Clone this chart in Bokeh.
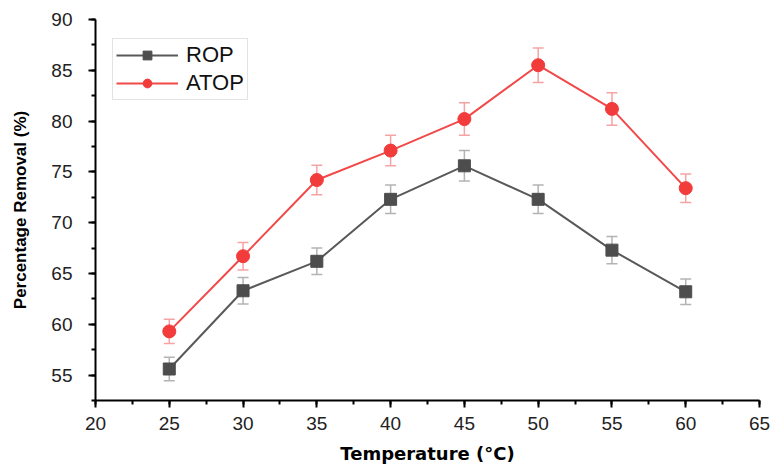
from bokeh.plotting import figure
from bokeh.models import (ColumnDataSource, Whisker, TeeHead, SingleIntervalTicker,
                          Range1d, Legend, LegendItem)
from bokeh.embed import file_html
from bokeh.resources import INLINE

# Removal efficiency versus temperature for the two adsorbents
temperature = [25, 30, 35, 40, 45, 50, 55, 60]
rop = [55.6, 63.3, 66.2, 72.3, 75.6, 72.3, 67.3, 63.2]
rop_err = [1.15, 1.3, 1.3, 1.4, 1.5, 1.4, 1.35, 1.25]
atop = [59.3, 66.7, 74.2, 77.1, 80.2, 85.5, 81.2, 73.4]
atop_err = [1.2, 1.35, 1.45, 1.5, 1.6, 1.7, 1.6, 1.4]

GRAY = "#4d4d4d"
GRAY_LINE = "#595959"
GRAY_ERR = "#b3b3b3"
RED = "#f23b3b"
RED_LINE = "#f24848"
RED_ERR = "#f6a3a3"

p = figure(width=773, height=468, output_backend="svg", toolbar_location=None,
           x_range=Range1d(20, 65), y_range=Range1d(52.5, 90),
           min_border_left=95, min_border_right=14, min_border_top=19,
           min_border_bottom=68)
p.outline_line_color = None
p.xgrid.visible = False
p.ygrid.visible = False
p.background_fill_color = "white"
p.border_fill_color = "white"

for axis in (p.xaxis[0], p.yaxis[0]):
    axis.axis_line_width = 2
    axis.axis_line_color = "black"
    axis.major_tick_line_width = 2
    axis.minor_tick_line_width = 2
    axis.major_tick_out = 7
    axis.major_tick_in = 0
    axis.minor_tick_out = 4
    axis.minor_tick_in = 0
    axis.major_label_text_font = "Liberation Sans"
    axis.major_label_text_font_size = "19px"
    axis.major_label_text_color = "#222222"
    axis.axis_label_text_color = "black"

p.xaxis.ticker = SingleIntervalTicker(interval=5, num_minor_ticks=2)
p.yaxis.ticker = SingleIntervalTicker(interval=5, num_minor_ticks=2)
p.xaxis.major_label_standoff = 9
p.yaxis.major_label_standoff = 16

p.xaxis.axis_label = "Temperature (°C)"
p.xaxis.axis_label_text_font = "DejaVu Sans"
p.xaxis.axis_label_text_font_style = "bold"
p.xaxis.axis_label_text_font_size = "18px"
p.xaxis.axis_label_standoff = 10

p.yaxis.axis_label = "Percentage Removal (%)"
p.yaxis.axis_label_text_font = "Liberation Sans"
p.yaxis.axis_label_text_font_style = "bold"
p.yaxis.axis_label_text_font_size = "17px"
p.yaxis.axis_label_standoff = 18

src_rop = ColumnDataSource(dict(
    x=temperature, y=rop,
    lo=[v - e for v, e in zip(rop, rop_err)],
    hi=[v + e for v, e in zip(rop, rop_err)]))
src_atop = ColumnDataSource(dict(
    x=temperature, y=atop,
    lo=[v - e for v, e in zip(atop, atop_err)],
    hi=[v + e for v, e in zip(atop, atop_err)]))

# error bars
for src, col in ((src_rop, GRAY_ERR), (src_atop, RED_ERR)):
    w = Whisker(source=src, base="x", upper="hi", lower="lo",
                line_color=col, line_width=1.5,
                upper_head=TeeHead(size=11, line_color=col, line_width=1.5),
                lower_head=TeeHead(size=11, line_color=col, line_width=1.5))
    p.add_layout(w)

l1 = p.line("x", "y", source=src_rop, line_color=GRAY_LINE, line_width=2)
m1 = p.scatter("x", "y", source=src_rop, marker="square", size=12,
               fill_color=GRAY, line_color=GRAY)
l2 = p.line("x", "y", source=src_atop, line_color=RED_LINE, line_width=2)
m2 = p.scatter("x", "y", source=src_atop, marker="circle", size=13,
               fill_color=RED, line_color=RED)

legend = Legend(items=[LegendItem(label="ROP", renderers=[l1, m1]),
                       LegendItem(label="ATOP", renderers=[l2, m2])],
                location=(17, 300))
legend.label_text_font = "Liberation Sans"
legend.label_text_font_size = "22px"
legend.label_text_color = "#111111"
legend.glyph_width = 62
legend.glyph_height = 22
legend.label_standoff = 8
legend.padding = 3
legend.spacing = 2
legend.margin = 0
legend.border_line_color = "#c8c8c8"
legend.border_line_width = 1.5
legend.background_fill_alpha = 1
p.add_layout(legend)

open("out.html", "w").write(file_html(p, INLINE))
